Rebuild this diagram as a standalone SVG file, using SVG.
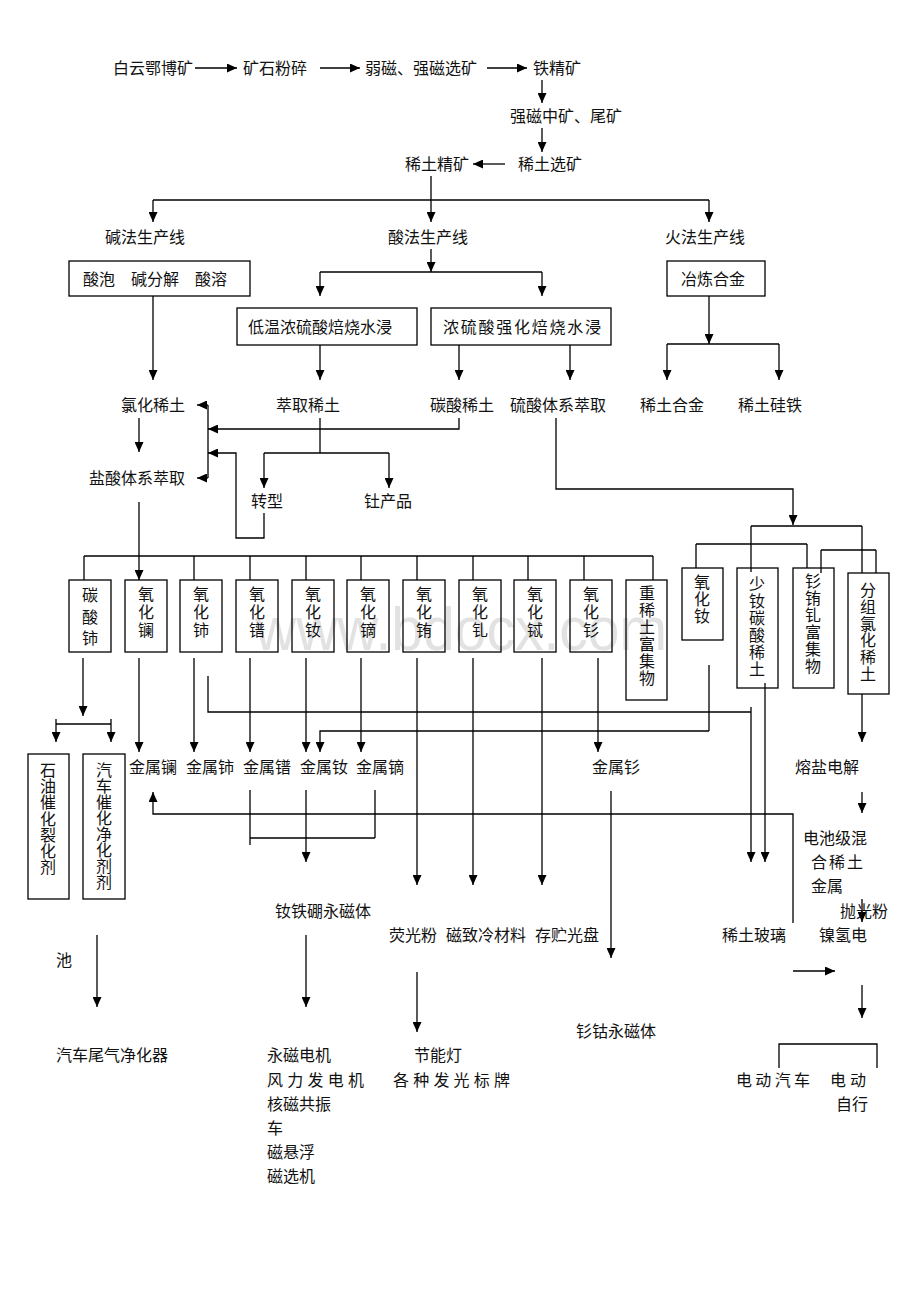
<svg xmlns="http://www.w3.org/2000/svg" width="920" height="1302" viewBox="0 0 920 1302">
<style>
.t{font-family:"Noto Sans CJK SC","Noto Sans CJK JP",sans-serif;font-size:16px;fill:#111}
.vt{font-family:"Noto Sans CJK SC","Noto Sans CJK JP",sans-serif;font-size:16px;fill:#111;writing-mode:vertical-rl}
.box{fill:none;stroke:#000;stroke-width:1.3}
.c{fill:none;stroke:#000;stroke-width:1.3}
.a{marker-end:url(#ah)}
.wm{font-family:"Liberation Sans",Arial,sans-serif;font-size:62px;fill:#e2e2e2}
</style>
<defs>
<marker id="ah" markerUnits="userSpaceOnUse" markerWidth="11" markerHeight="9" refX="10" refY="4.5" orient="auto">
<path d="M0,0 L10,4.5 L0,9 z" fill="#000"/>
</marker>
</defs>
<rect width="920" height="1302" fill="#fff"/>
<text class="wm" x="255" y="650" textLength="412" lengthAdjust="spacingAndGlyphs">www.bdocx.com</text>

<g id="connectors">
<path class="c a" d="M195,68 H237"/>
<path class="c a" d="M320,68 H360"/>
<path class="c a" d="M487,68 H527"/>
<path class="c a" d="M542,80 V103"/>
<path class="c a" d="M542,128 V152"/>
<path class="c a" d="M505,164 H473"/>
<path class="c a" d="M431,176 V222"/>
<path class="c" d="M153,200 H709"/>
<path class="c a" d="M153,200 V222"/>
<path class="c a" d="M709,200 V222"/>
<path class="c a" d="M431,249 V272"/>
<path class="c" d="M320,272 H542"/>
<path class="c a" d="M320,272 V296"/>
<path class="c a" d="M542,272 V296"/>
<path class="c a" d="M153,296 V380"/>
<path class="c a" d="M320,345 V380"/>
<path class="c a" d="M459,345 V380"/>
<path class="c a" d="M570,345 V380"/>
<path class="c a" d="M709,296 V344"/>
<path class="c" d="M667,344 H779"/>
<path class="c a" d="M667,344 V380"/>
<path class="c a" d="M779,344 V380"/>
<path class="c a" d="M139,418 V452"/>
<path class="c" d="M208,405 V478"/>
<path class="c a" d="M208,405 H197"/>
<path class="c a" d="M208,478 H197"/>
<path class="c a" d="M459,418 V429 H208"/>
<path class="c a" d="M264,513 V538 H236 V453 H208"/>
<path class="c" d="M320,418 V453"/>
<path class="c" d="M264,453 H389"/>
<path class="c a" d="M264,453 V488"/>
<path class="c a" d="M389,453 V488"/>
<path class="c a" d="M139,502 V580"/>
<path class="c" d="M84,556 H653"/>
<path class="c" d="M84,556 V580 M194,556 V580 M250,556 V580 M306,556 V580 M361,556 V580 M417,556 V580 M473,556 V580 M528,556 V580 M584,556 V580 M653,556 V580"/>
<path class="c a" d="M556,418 V489 H793 V525"/>
<path class="c" d="M751,526 H862 M862,526 V573 M751,526 V572"/>
<path class="c" d="M696,544 H807 M696,544 V568 M807,544 V568"/>
<path class="c" d="M821,550 H876 M876,550 V573 M821,550 V573"/>
<path class="c a" d="M83,658 V716"/>
<path class="c" d="M56,724 H111"/>
<path class="c a" d="M56,719 V742"/>
<path class="c a" d="M111,719 V742"/>
<path class="c a" d="M139,658 V752"/>
<path class="c a" d="M194,658 V752"/>
<path class="c a" d="M250,658 V752"/>
<path class="c a" d="M306,658 V752"/>
<path class="c a" d="M361,658 V752"/>
<path class="c" d="M208,676 V712 H751"/>
<path class="c a" d="M751,707 V862"/>
<path class="c" d="M709,665 V731"/>
<path class="c a" d="M709,731 H320 V752"/>
<path class="c a" d="M765,683 V862"/>
<path class="c a" d="M417,658 V885"/>
<path class="c a" d="M473,658 V885"/>
<path class="c a" d="M542,658 V885"/>
<path class="c a" d="M598,658 V752"/>
<path class="c a" d="M862,694 V742"/>
<path class="c a" d="M793,923 V814 H153 V792"/>
<path class="c" d="M250,790 V845 M250,838 H375 M375,790 V838"/>
<path class="c a" d="M306,790 V862"/>
<path class="c a" d="M611,791 V958"/>
<path class="c a" d="M862,792 V813"/>
<path class="c a" d="M862,899 V922"/>
<path class="c a" d="M793,971 H835"/>
<path class="c a" d="M862,985 V1018"/>
<path class="c" d="M779,1068 V1044 H877 V1068"/>
<path class="c a" d="M97,935 V1007"/>
<path class="c a" d="M306,935 V1007"/>
<path class="c a" d="M417,972 V1032"/>
</g>

<g id="n-baiyun"><text class="t" x="113" y="74">白云鄂博矿</text></g>
<g id="n-fensui"><text class="t" x="243" y="74">矿石粉碎</text></g>
<g id="n-xuankuang"><text class="t" x="365" y="74">弱磁、强磁选矿</text></g>
<g id="n-tiejing"><text class="t" x="533" y="74">铁精矿</text></g>
<g id="n-qiangci"><text class="t" x="510" y="122">强磁中矿、尾矿</text></g>
<g id="n-xituxuan"><text class="t" x="518" y="170">稀土选矿</text></g>
<g id="n-xitujing"><text class="t" x="405" y="170">稀土精矿</text></g>
<g id="n-jianfa"><text class="t" x="105" y="243">碱法生产线</text></g>
<g id="n-suanfa"><text class="t" x="388" y="243">酸法生产线</text></g>
<g id="n-huofa"><text class="t" x="665" y="243">火法生产线</text></g>
<g id="n-suanpao"><rect class="box" x="69" y="261" width="181" height="35"/><text class="t" x="83" y="285">酸泡</text><text class="t" x="131" y="285">碱分解</text><text class="t" x="195" y="285">酸溶</text></g>
<g id="n-diwen"><rect class="box" x="237" y="308" width="180" height="37"/><text class="t" x="248" y="333">低温浓硫酸焙烧水浸</text></g>
<g id="n-nongliu"><rect class="box" x="431" y="308" width="180" height="37"/><text class="t" x="443" y="333" textLength="158" lengthAdjust="spacing">浓硫酸强化焙烧水浸</text></g>
<g id="n-yelian"><rect class="box" x="667" y="261" width="98" height="35"/><text class="t" x="681" y="285">冶炼合金</text></g>
<g id="n-hejin"><text class="t" x="640" y="411">稀土合金</text></g>
<g id="n-guitie"><text class="t" x="738" y="411">稀土硅铁</text></g>
<g id="n-lvhua"><text class="t" x="121" y="411">氯化稀土</text></g>
<g id="n-cuiqu"><text class="t" x="276" y="411">萃取稀土</text></g>
<g id="n-tansuan"><text class="t" x="430" y="411">碳酸稀土</text></g>
<g id="n-liusuan"><text class="t" x="510" y="411">硫酸体系萃取</text></g>
<g id="n-yansuan"><text class="t" x="89" y="484">盐酸体系萃取</text></g>
<g id="n-zhuanxing"><text class="t" x="251" y="507">转型</text></g>
<g id="n-tu"><text class="t" x="364" y="507">钍产品</text></g>

<g id="n-tansuanshi"><rect class="box" x="69" y="580" width="42" height="72"/><text class="vt" x="90" y="587" letter-spacing="5.5">碳酸铈</text></g>
<g id="n-la"><rect class="box" x="125" y="580" width="42" height="72"/><text class="vt" x="146" y="586" letter-spacing="2">氧化镧</text></g>
<g id="n-ce"><rect class="box" x="180" y="580" width="42" height="72"/><text class="vt" x="201" y="586" letter-spacing="2">氧化铈</text></g>
<g id="n-pr"><rect class="box" x="236" y="580" width="42" height="72"/><text class="vt" x="257" y="586" letter-spacing="2">氧化镨</text></g>
<g id="n-nd"><rect class="box" x="292" y="580" width="42" height="72"/><text class="vt" x="313" y="586" letter-spacing="2">氧化钕</text></g>
<g id="n-dy"><rect class="box" x="347" y="580" width="42" height="72"/><text class="vt" x="368" y="586" letter-spacing="2">氧化镝</text></g>
<g id="n-eu"><rect class="box" x="403" y="580" width="42" height="72"/><text class="vt" x="424" y="586" letter-spacing="2">氧化铕</text></g>
<g id="n-gd"><rect class="box" x="459" y="580" width="42" height="72"/><text class="vt" x="480" y="586" letter-spacing="2">氧化钆</text></g>
<g id="n-tb"><rect class="box" x="514" y="580" width="42" height="72"/><text class="vt" x="535" y="586" letter-spacing="2">氧化铽</text></g>
<g id="n-sm"><rect class="box" x="570" y="580" width="42" height="72"/><text class="vt" x="591" y="586" letter-spacing="2">氧化钐</text></g>
<g id="n-zhong"><rect class="box" x="626" y="580" width="41" height="120"/><text class="vt" x="647" y="585" letter-spacing="1">重稀土富集物</text></g>
<g id="n-nd2"><rect class="box" x="682" y="568" width="41" height="72"/><text class="vt" x="702" y="574" letter-spacing="1">氧化钕</text></g>
<g id="n-shaond"><rect class="box" x="737" y="568" width="41" height="120"/><text class="vt" x="757" y="576" letter-spacing="1">少钕碳酸稀土</text></g>
<g id="n-smeugd"><rect class="box" x="793" y="568" width="41" height="120"/><text class="vt" x="813" y="573" letter-spacing="1">钐铕钆富集物</text></g>
<g id="n-fenzu"><rect class="box" x="848" y="573" width="41" height="121"/><text class="vt" x="868" y="582" letter-spacing="0.8">分组氯化稀土</text></g>

<g id="n-shiyou"><rect class="box" x="28" y="754" width="41" height="145"/><text class="vt" x="48" y="762" letter-spacing="0.2">石油催化裂化剂</text></g>
<g id="n-qiche"><rect class="box" x="83" y="754" width="42" height="145"/><text class="vt" x="104" y="762">汽车催化净化剂剂</text></g>

<g id="n-jsla"><text class="t" x="129" y="773">金属镧</text></g>
<g id="n-jsce"><text class="t" x="186" y="773">金属铈</text></g>
<g id="n-jspr"><text class="t" x="243" y="773">金属镨</text></g>
<g id="n-jsnd"><text class="t" x="300" y="773">金属钕</text></g>
<g id="n-jsdy"><text class="t" x="356" y="773">金属镝</text></g>
<g id="n-jssm"><text class="t" x="592" y="773">金属钐</text></g>
<g id="n-rongyan"><text class="t" x="795" y="773">熔盐电解</text></g>
<g id="n-dianchi"><text class="t" x="803" y="844">电池级混</text><text class="t" x="811" y="868" textLength="52" lengthAdjust="spacing">合稀土</text><text class="t" x="811" y="892">金属</text></g>
<g id="n-ndfeb"><text class="t" x="275" y="917">钕铁硼永磁体</text></g>
<g id="n-paoguang"><text class="t" x="840" y="917">抛光粉</text></g>
<g id="n-yingguang"><text class="t" x="389" y="941">荧光粉</text></g>
<g id="n-cizhi"><text class="t" x="446" y="941">磁致冷材料</text></g>
<g id="n-cunzhu"><text class="t" x="535" y="941">存贮光盘</text></g>
<g id="n-boli"><text class="t" x="722" y="941">稀土玻璃</text></g>
<g id="n-nieqing"><text class="t" x="819" y="941">镍氢电</text></g>
<g id="n-chi"><text class="t" x="56" y="966">池</text></g>
<g id="n-smco"><text class="t" x="576" y="1037">钐钴永磁体</text></g>
<g id="n-weiqi"><text class="t" x="56" y="1061">汽车尾气净化器</text></g>
<g id="n-yongci"><text class="t" x="267" y="1061">永磁电机</text><text class="t" x="267" y="1086" textLength="97" lengthAdjust="spacing">风力发电机</text><text class="t" x="267" y="1110">核磁共振</text><text class="t" x="267" y="1134">车</text><text class="t" x="267" y="1158">磁悬浮</text><text class="t" x="267" y="1182">磁选机</text></g>
<g id="n-jieneng"><text class="t" x="414" y="1061">节能灯</text><text class="t" x="393" y="1086" textLength="117" lengthAdjust="spacing">各种发光标牌</text></g>
<g id="n-diandong"><text class="t" x="736" y="1086" textLength="74" lengthAdjust="spacing">电动汽车</text><text class="t" x="830" y="1086" textLength="36" lengthAdjust="spacing">电动</text><text class="t" x="836" y="1110">自行</text></g>
</svg>
